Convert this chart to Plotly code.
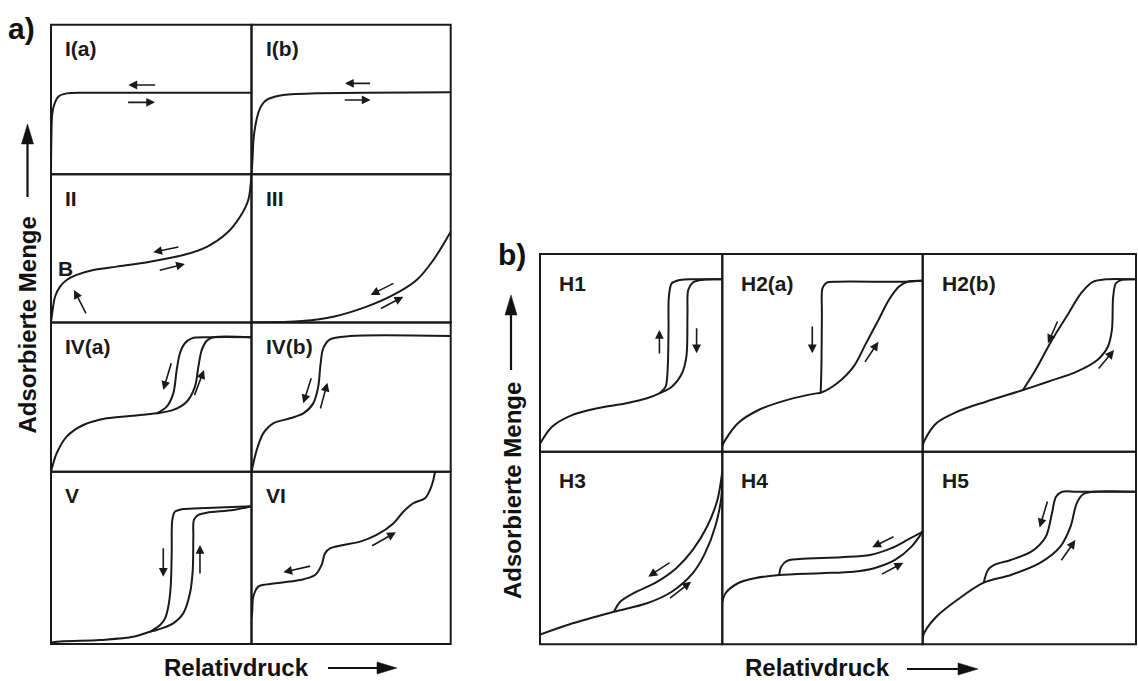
import plotly.graph_objects as go

# ---------------------------------------------------------------------------
# Isotherm shapes: relative pressure (x) vs. adsorbed amount (y), each cell 0..1
# ---------------------------------------------------------------------------
ia_x = [0, 0.002, 0.0065, 0.02, 0.036, 0.078, 0.2, 1.0]
ia_y = [0, 0.25, 0.408, 0.48, 0.519, 0.541, 0.545, 0.545]

ib_x = [0, 0.005, 0.01, 0.02, 0.034, 0.05, 0.076, 0.12, 0.16, 0.33, 1.0]
ib_y = [0, 0.1, 0.23, 0.33, 0.41, 0.46, 0.497, 0.52, 0.53, 0.541, 0.548]

ii_x = [0, 0.006, 0.02, 0.045, 0.078, 0.128, 0.211, 0.328, 0.494, 0.66, 0.777, 0.876, 0.943, 0.984, 1.0]
ii_y = [0, 0.062, 0.174, 0.242, 0.287, 0.321, 0.354, 0.377, 0.41, 0.455, 0.511, 0.602, 0.714, 0.827, 1.0]

iii_x = [0, 0.254, 0.411, 0.578, 0.712, 0.829, 0.913, 1.0]
iii_y = [0, 0.01, 0.039, 0.107, 0.186, 0.287, 0.422, 0.613]

iva_ads_x = [0, 0.01, 0.028, 0.078, 0.161, 0.278, 0.41, 0.527, 0.61, 0.677, 0.718, 0.735, 0.752, 0.777, 0.81, 1.0]
iva_ads_y = [0, 0.05, 0.123, 0.235, 0.313, 0.358, 0.375, 0.391, 0.414, 0.469, 0.57, 0.704, 0.816, 0.878, 0.901, 0.901]
iva_des_x = [0.527, 0.577, 0.61, 0.627, 0.643, 0.668, 0.702, 0.793, 1.0]
iva_des_y = [0.391, 0.436, 0.525, 0.682, 0.794, 0.861, 0.894, 0.901, 0.901]

ivb_x = [0, 0.01, 0.026, 0.059, 0.109, 0.193, 0.26, 0.31, 0.335, 0.347, 0.36, 0.394, 0.494, 1.0]
ivb_y = [0, 0.06, 0.145, 0.257, 0.324, 0.358, 0.391, 0.458, 0.57, 0.726, 0.827, 0.887, 0.909, 0.909]

v_ads_x = [0, 0.006, 0.244, 0.41, 0.494, 0.527, 0.61, 0.66, 0.693, 0.707, 0.71, 0.713, 0.735, 0.777, 0.909, 1.0]
v_ads_y = [0, 0.008, 0.023, 0.042, 0.071, 0.081, 0.12, 0.178, 0.294, 0.429, 0.623, 0.72, 0.749, 0.762, 0.778, 0.8]
v_des_x = [0.494, 0.544, 0.569, 0.585, 0.597, 0.602, 0.605, 0.618, 0.652, 0.743, 1.0]
v_des_y = [0.071, 0.11, 0.149, 0.216, 0.333, 0.526, 0.72, 0.768, 0.782, 0.788, 0.8]

vi_x = [0, 0.004, 0.009, 0.034, 0.076, 0.243, 0.319, 0.352, 0.369, 0.394, 0.461, 0.545,
        0.628, 0.712, 0.762, 0.812, 0.871, 0.896, 0.913, 0.921, 0.925]
vi_y = [0.15, 0.197, 0.275, 0.333, 0.346, 0.371, 0.4, 0.459, 0.526, 0.555, 0.575, 0.594,
        0.633, 0.7, 0.768, 0.817, 0.846, 0.894, 0.952, 0.994, 1.0]

h1_ads_x = [0, 0.066, 0.179, 0.315, 0.474, 0.587, 0.655, 0.723, 0.779, 0.803, 0.809, 0.813, 0.837, 0.882, 1.0]
h1_ads_y = [0.04, 0.126, 0.186, 0.22, 0.245, 0.27, 0.295, 0.329, 0.397, 0.481, 0.7, 0.818, 0.855, 0.869, 0.872]
h1_des_x = [0.655, 0.689, 0.7, 0.705, 0.707, 0.723, 0.768, 0.859, 1.0]
h1_des_y = [0.295, 0.329, 0.413, 0.616, 0.784, 0.852, 0.869, 0.872, 0.872]

h2a_ads_x = [0, 0.01, 0.078, 0.181, 0.325, 0.47, 0.491, 0.573, 0.655, 0.717, 0.779, 0.831, 0.882, 0.924, 1.0]
h2a_ads_y = [0.03, 0.051, 0.144, 0.211, 0.262, 0.295, 0.298, 0.346, 0.43, 0.548, 0.666, 0.767, 0.835, 0.86, 0.865]
h2a_des_x = [0.491, 0.495, 0.497, 0.5, 0.521, 0.573, 0.903, 1.0]
h2a_des_y = [0.298, 0.447, 0.7, 0.827, 0.855, 0.86, 0.86, 0.865]

h2b_ads_x = [0, 0.006, 0.064, 0.161, 0.296, 0.47, 0.587, 0.722, 0.819, 0.868, 0.887, 0.893, 0.906, 0.935, 1.0]
h2b_ads_y = [0.03, 0.051, 0.144, 0.202, 0.253, 0.312, 0.354, 0.405, 0.464, 0.531, 0.616, 0.784, 0.852, 0.869, 0.872]
h2b_des_x = [0.47, 0.529, 0.606, 0.684, 0.742, 0.8, 0.858, 1.0]
h2b_des_y = [0.312, 0.413, 0.565, 0.7, 0.801, 0.86, 0.872, 0.872]

h3_ads_x = [0, 0.179, 0.406, 0.587, 0.723, 0.837, 0.905, 0.961, 0.995, 1.0]
h3_ads_y = [0.05, 0.109, 0.169, 0.213, 0.273, 0.368, 0.472, 0.61, 0.766, 0.896]
h3_des_x = [0.406, 0.44, 0.519, 0.632, 0.746, 0.837, 0.916, 0.973, 1.0]
h3_des_y = [0.169, 0.221, 0.268, 0.319, 0.394, 0.489, 0.61, 0.749, 0.896]

h4_ads_x = [0, 0.016, 0.078, 0.161, 0.284, 0.491, 0.655, 0.758, 0.862, 0.944, 1.0]
h4_ads_y = [0.22, 0.265, 0.317, 0.343, 0.36, 0.369, 0.377, 0.395, 0.438, 0.507, 0.585]
h4_des_x = [0.284, 0.294, 0.325, 0.387, 0.593, 0.738, 0.841, 0.924, 1.0]
h4_des_y = [0.36, 0.403, 0.434, 0.443, 0.452, 0.464, 0.498, 0.542, 0.585]

h5_ads_x = [0, 0.006, 0.064, 0.161, 0.286, 0.413, 0.548, 0.645, 0.693, 0.722, 0.752, 0.8, 1.0]
h5_ads_y = [0.03, 0.057, 0.143, 0.23, 0.32, 0.36, 0.421, 0.507, 0.611, 0.732, 0.779, 0.792, 0.792]
h5_des_x = [0.286, 0.306, 0.335, 0.413, 0.509, 0.577, 0.606, 0.625, 0.654, 0.722, 1.0]
h5_des_y = [0.32, 0.386, 0.412, 0.438, 0.481, 0.559, 0.68, 0.766, 0.792, 0.792, 0.792]

# panel labels
labels_a = ["I(a)", "I(b)", "II", "III", "IV(a)", "IV(b)", "V", "VI"]
labels_b = ["H1", "H2(a)", "H2(b)", "H3", "H4", "H5"]
y_title = "Adsorbierte Menge"
x_title = "Relativdruck"

# ---------------------------------------------------------------------------
# Layout helpers (pixel geometry of the 1138 x 681 canvas)
# ---------------------------------------------------------------------------
W, H = 1138, 681
INK = "#1a1a1a"
FONT = "Liberation Sans, Arial, Helvetica, sans-serif"


def fx(p):
    return p / W


def fy(p):
    return 1 - p / H


a_cols = [51, 251.5, 450.7]
a_rows = [24.7, 174.3, 322.5, 471.7, 644]
b_cols = [540, 722.3, 922.7, 1136]
b_rows = [254, 451.7, 644.3]

cells = []  # (label, left, right, top, bottom, panel)
k = 0
for r in range(4):
    for c in range(2):
        cells.append((labels_a[k], a_cols[c], a_cols[c + 1], a_rows[r], a_rows[r + 1], "a"))
        k += 1
k = 0
for r in range(2):
    for c in range(3):
        cells.append((labels_b[k], b_cols[c], b_cols[c + 1], b_rows[r], b_rows[r + 1], "b"))
        k += 1

curves = {
    "I(a)": [(ia_x, ia_y)],
    "I(b)": [(ib_x, ib_y)],
    "II": [(ii_x, ii_y)],
    "III": [(iii_x, iii_y)],
    "IV(a)": [(iva_ads_x, iva_ads_y), (iva_des_x, iva_des_y)],
    "IV(b)": [(ivb_x, ivb_y)],
    "V": [(v_ads_x, v_ads_y), (v_des_x, v_des_y)],
    "VI": [(vi_x, vi_y)],
    "H1": [(h1_ads_x, h1_ads_y), (h1_des_x, h1_des_y)],
    "H2(a)": [(h2a_ads_x, h2a_ads_y), (h2a_des_x, h2a_des_y)],
    "H2(b)": [(h2b_ads_x, h2b_ads_y), (h2b_des_x, h2b_des_y)],
    "H3": [(h3_ads_x, h3_ads_y), (h3_des_x, h3_des_y)],
    "H4": [(h4_ads_x, h4_ads_y), (h4_des_x, h4_des_y)],
    "H5": [(h5_ads_x, h5_ads_y), (h5_des_x, h5_des_y)],
}

# direction arrows inside each cell: (tail x, tail y, head x, head y) in cell units
cell_arrows = {
    "I(a)": [(0.527, 0.597, 0.386, 0.597), (0.377, 0.481, 0.519, 0.481)],
    "I(b)": [(0.603, 0.608, 0.469, 0.608), (0.461, 0.497, 0.598, 0.497)],
    "II": [(0.643, 0.511, 0.51, 0.474), (0.535, 0.35, 0.668, 0.395), (0.178, 0.051, 0.115, 0.22)],
    "III": [(0.72, 0.269, 0.598, 0.186), (0.642, 0.089, 0.762, 0.174)],
    "IV(a)": [(0.602, 0.737, 0.56, 0.548), (0.713, 0.503, 0.763, 0.682)],
    "IV(b)": [(0.302, 0.637, 0.26, 0.458), (0.344, 0.414, 0.381, 0.597)],
    "V": [(0.56, 0.565, 0.56, 0.39), (0.743, 0.4, 0.743, 0.575)],
    "VI": [(0.302, 0.454, 0.16, 0.416), (0.598, 0.565, 0.725, 0.648)],
    "H1": [(0.655, 0.489, 0.655, 0.616), (0.859, 0.632, 0.859, 0.498)],
    "H2(a)": [(0.449, 0.641, 0.449, 0.498), (0.707, 0.447, 0.779, 0.556)],
    "H2(b)": [(0.635, 0.666, 0.587, 0.548), (0.819, 0.413, 0.897, 0.514)],
    "H3": [(0.719, 0.429, 0.594, 0.351), (0.705, 0.234, 0.829, 0.325)],
    "H4": [(0.862, 0.562, 0.748, 0.504), (0.789, 0.36, 0.903, 0.424)],
    "H5": [(0.587, 0.749, 0.548, 0.607), (0.645, 0.429, 0.716, 0.541)],
}

fig = go.Figure()
layout = dict(
    width=W, height=H,
    margin=dict(l=0, r=0, t=0, b=0),
    paper_bgcolor="white", plot_bgcolor="rgba(0,0,0,0)",
    showlegend=False,
)
shapes = []
annotations = []

for n, (label, left, right, top, bottom, panel) in enumerate(cells, start=1):
    sx = "" if n == 1 else str(n)
    xa, ya = "x" + sx, "y" + sx
    layout["xaxis" + sx] = dict(domain=[fx(left), fx(right)], range=[0, 1], visible=False,
                                fixedrange=True, anchor=ya)
    layout["yaxis" + sx] = dict(domain=[fy(bottom), fy(top)], range=[0, 1], visible=False,
                                fixedrange=True, anchor=xa)
    for cx, cy in curves[label]:
        fig.add_trace(go.Scatter(
            x=cx, y=cy, mode="lines", xaxis=xa, yaxis=ya, hoverinfo="skip",
            line=dict(color=INK, width=2, shape="spline", smoothing=0.9),
        ))
    shapes.append(dict(type="rect", xref=xa + " domain", yref=ya + " domain",
                       x0=0, x1=1, y0=0, y1=1, line=dict(color=INK, width=2)))
    off_x, off_y = (12, -24) if panel == "a" else (17, -29)
    annotations.append(dict(
        text="<b>%s</b>" % label, xref=xa + " domain", yref=ya + " domain", x=0, y=1,
        xshift=off_x, yshift=off_y, xanchor="left", yanchor="middle", showarrow=False,
        font=dict(family=FONT, size=21, color=INK),
    ))
    for tx, ty, hx, hy in cell_arrows[label]:
        annotations.append(dict(
            text="", x=hx, y=hy, ax=tx, ay=ty, xref=xa, yref=ya, axref=xa, ayref=ya,
            showarrow=True, arrowhead=2, arrowsize=1.1, arrowwidth=1.6, arrowcolor=INK,
            standoff=0, startstandoff=0,
        ))

# marker "B" on the type II knee
annotations.append(dict(text="<b>B</b>", xref="paper", yref="paper", x=fx(65), y=fy(268.5),
                        xanchor="center", yanchor="middle", showarrow=False,
                        font=dict(family=FONT, size=21, color=INK)))

# panel letters
for txt, cx, cy in [("a)", 21.7, 28.3), ("b)", 511.5, 254)]:
    annotations.append(dict(text="<b>%s</b>" % txt, xref="paper", yref="paper", x=fx(cx), y=fy(cy),
                            xanchor="center", yanchor="middle", showarrow=False,
                            font=dict(family=FONT, size=30, color="#111")))

# axis titles
for cx, cy in [(27.5, 325), (512, 490)]:
    annotations.append(dict(text="<b>%s</b>" % y_title, xref="paper", yref="paper", x=fx(cx), y=fy(cy),
                            xanchor="center", yanchor="middle", showarrow=False, textangle=-90,
                            font=dict(family=FONT, size=24, color="#111")))
for cx, cy in [(236, 667), (817.5, 667)]:
    annotations.append(dict(text="<b>%s</b>" % x_title, xref="paper", yref="paper", x=fx(cx), y=fy(cy),
                            xanchor="center", yanchor="middle", showarrow=False, borderpad=0,
                            font=dict(family=FONT, size=24, color="#111")))


def title_arrow(x0, y0, x1, y1, head=20, half=6):
    """Line plus filled triangular head, given in canvas pixels."""
    dx, dy = x1 - x0, y1 - y0
    ln = (dx * dx + dy * dy) ** 0.5
    ux, uy = dx / ln, dy / ln
    bx, by = x1 - ux * head, y1 - uy * head
    px_, py_ = -uy * half, ux * half
    out = [dict(type="line", xref="paper", yref="paper", x0=fx(x0), y0=fy(y0),
                x1=fx(bx + ux * 2), y1=fy(by + uy * 2), line=dict(color="#111", width=2.2))]
    path = "M %f %f L %f %f L %f %f Z" % (
        fx(x1), fy(y1), fx(bx + px_), fy(by + py_), fx(bx - px_), fy(by - py_))
    out.append(dict(type="path", xref="paper", yref="paper", path=path,
                    fillcolor="#111", line=dict(color="#111", width=0.5)))
    return out


shapes += title_arrow(27.5, 197, 27.5, 124)
shapes += title_arrow(511, 370, 511, 295)
shapes += title_arrow(328, 668, 397, 668)
shapes += title_arrow(907, 669, 978, 669)

layout["shapes"] = shapes
layout["annotations"] = annotations
fig.update_layout(**layout)
fig.write_html("out.html")
